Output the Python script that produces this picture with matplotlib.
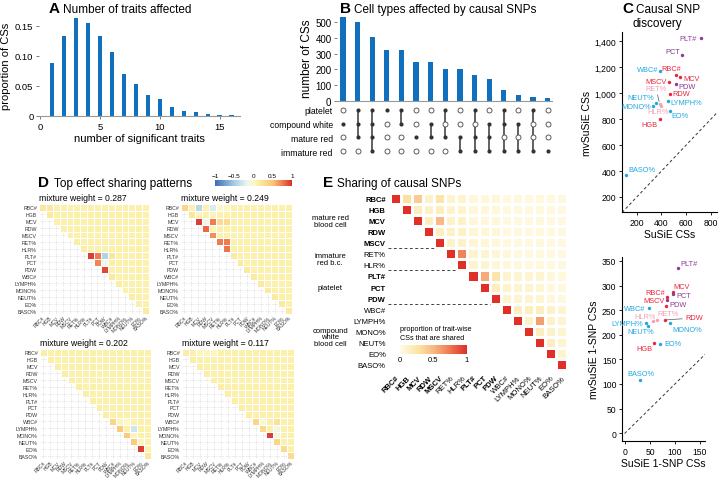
import numpy as np
import matplotlib.pyplot as plt
from matplotlib.colors import LinearSegmentedColormap, Normalize
from matplotlib.cm import ScalarMappable
from matplotlib.ticker import FuncFormatter

plt.rcParams['font.family'] = ['Liberation Sans', 'DejaVu Sans']

# ---- data ----
a_traits = [1, 2, 3, 4, 5, 6, 7, 8, 9, 10, 11, 12, 13, 14, 15, 16]
a_prop = [0.088, 0.134, 0.163, 0.155, 0.133, 0.107, 0.070, 0.054, 0.035,
          0.029, 0.015, 0.008, 0.007, 0.004, 0.001, 0.002]

b_counts = [528, 498, 406, 321, 320, 249, 245, 202, 202, 166, 138, 68, 38, 26, 17]
b_rows = ["platelet", "compound white", "mature red", "immature red"]
b_platelet = [0, 1, 1, 1, 1, 0, 0, 1, 0, 1, 0, 1, 0, 1, 0]
b_white = [1, 1, 1, 0, 1, 0, 1, 0, 0, 0, 1, 1, 1, 0, 0]
b_mature = [0, 1, 1, 0, 0, 1, 1, 1, 1, 1, 1, 0, 0, 0, 0]
b_immature = [0, 0, 1, 0, 0, 0, 0, 0, 1, 1, 1, 1, 1, 1, 1]

traits = ["RBC#", "HGB", "MCV", "RDW", "MSCV", "RET%", "HLR%", "PLT#", "PCT",
          "PDW", "WBC#", "LYMPH%", "MONO%", "NEUT%", "EO%", "BASO%"]
trait_group = ["red", "red", "red", "red", "red", "pink", "pink", "purple", "purple",
               "purple", "cyan", "cyan", "cyan", "cyan", "cyan", "cyan"]
bold_traits = ["RBC#", "HGB", "MCV", "RDW", "MSCV", "PLT#", "PCT", "PDW"]

c_susie = [520, 384, 549, 467, 461, 385, 400, 720, 565, 515, 387, 450, 335, 357, 470, 112]
c_mvsusie = [1143, 798, 1128, 996, 1086, 920, 905, 1425, 1292, 1074, 1169, 937, 901, 927, 865, 372]
c_susie1 = [83, 57, 95, 80, 81, 63, 55, 105, 95, 83, 47, 42, 90, 45, 70, 30]
c_mvsusie1 = [277, 183, 286, 230, 259, 230, 227, 336, 282, 270, 254, 223, 223, 218, 182, 108]

d_weights = ["0.287", "0.249", "0.202", "0.117"]
d_rows_1 = [
    [.18, .18, .10, .10, .10, .10, .10, .10, .10, .10, .10, .10, .10, .10, .10, .10],
    [.16, .10, .10, .10, .10, .10, .10, .10, .10, .10, .10, .10, .10, .10, .10],
    [.10, .10, .10, .10, .10, .10, .10, .10, .10, .10, .10, .10, .10, .10],
    [.10, .10, .10, .10, .10, .10, .10, .10, .10, .10, .10, .10, .10],
    [.10, .10, .10, .10, .10, .10, .10, .10, .10, .10, .10, .10],
    [.12, .10, .10, .10, .10, .10, .10, .10, .10, .10, .10],
    [.12, .10, .10, .10, .10, .10, .10, .10, .10, .10],
    [.95, .75, -.45, .20, .10, .10, .10, .10, .10],
    [.72, -.15, .12, .10, .10, .10, .10, .10],
    [.92, .10, .10, .10, .10, .10, .10],
    [.15, .10, .10, .10, .10, .10],
    [.12, .10, .10, .10, .10],
    [.10, .10, .10, .10],
    [.12, .10, .10],
    [.10, .10],
    [.15],
]
d_rows_2 = [
    [.35, .10, -.40, .08, -.25, .00, .02, .10, .10, .10, .10, .10, .10, .10, .10, .10],
    [.20, .06, .10, .06, .08, .08, .10, .10, .10, .10, .10, .10, .10, .10, .10],
    [.95, -.12, .75, .30, .30, .10, .10, .10, .10, .10, .10, .10, .10, .10],
    [.82, .05, .10, .10, .10, .10, .10, .10, .10, .10, .10, .10, .10],
    [.68, .10, .10, .10, .10, .10, .10, .10, .10, .10, .10, .10],
    [.75, .75, .10, .10, .10, .10, .10, .10, .10, .10, .10],
    [.78, .10, .10, .10, .10, .10, .10, .10, .10, .10],
    [.15, .10, .10, .10, .10, .10, .10, .10, .10],
    [.15, .10, .10, .10, .10, .10, .10, .10],
    [.15, .10, .10, .10, .10, .10, .10],
    [.15, .10, .10, .10, .10, .10],
    [.15, .10, .10, .10, .10],
    [.15, .10, .10, .10],
    [.15, .10, .10],
    [.15, .10],
    [.15],
]
d_rows_3 = [
    [.12, .10, .10, .10, .10, .10, .10, .10, .10, .10, .10, .10, .10, .10, .10, .10],
    [.12, .10, .10, .10, .10, .10, .10, .10, .10, .10, .10, .10, .10, .10, .10],
    [.12, .10, .10, .10, .10, .10, .10, .10, .10, .10, .10, .10, .10, .10],
    [.12, .10, .10, .10, .10, .10, .10, .10, .10, .10, .10, .10, .10],
    [.12, .10, .10, .10, .10, .10, .10, .10, .10, .10, .10, .10],
    [.12, .10, .10, .10, .10, .10, .10, .10, .10, .10, .10],
    [.12, .10, .10, .10, .10, .10, .10, .10, .10, .10],
    [.12, .10, .10, .10, .10, .10, .10, .10, .10],
    [.12, .10, .10, .10, .10, .10, .10, .10],
    [.12, .10, .10, .10, .10, .10, .10],
    [.35, .05, .00, .10, .10, .10],
    [.45, .10, -.30, .10, .10],
    [.45, .05, .10, .10],
    [.45, .05, .10],
    [.95, .10],
    [.18],
]
d_rows_4 = [
    [.12, .10, .03, .03, .03, .10, .10, .10, .10, .10, .10, .10, .10, .10, .10, .10],
    [.12, .10, .10, .10, .10, .10, .10, .10, .10, .10, .10, .10, .10, .10, .10],
    [.12, .10, .10, .10, .10, .10, .10, .10, .10, .10, .10, .10, .10, .10],
    [.12, .10, .10, .10, .10, .10, .10, .10, .10, .10, .10, .10, .10],
    [.12, .10, .10, .10, .10, .10, .10, .10, .10, .10, .10, .10],
    [.12, .10, .10, .10, .10, .10, .10, .10, .10, .10, .10],
    [.12, .10, .10, .10, .10, .10, .10, .10, .10, .10],
    [.12, .10, .10, .10, .10, .10, .10, .10, .10],
    [.12, .10, .10, .10, .10, .10, .10, .10],
    [.12, .10, .10, .10, .10, .10, .10],
    [.35, -.05, .12, .25, .10, .10],
    [.32, .10, -.12, .10, .10],
    [.95, -.10, .10, .10],
    [.35, .10, .10],
    [.30, .10],
    [.28],
]

e_rows = [
    [1, .30, .40, .12, .25, .10, .10, .06, .06, .06, .05, .05, .05, .05, .05, .04],
    [1, .15, .12, .15, .10, .10, .06, .06, .06, .05, .05, .05, .05, .05, .04],
    [1, .15, .50, .12, .12, .06, .06, .06, .05, .05, .05, .05, .05, .04],
    [1, .15, .12, .12, .07, .07, .07, .05, .05, .05, .05, .05, .04],
    [1, .12, .12, .07, .07, .06, .05, .05, .05, .05, .05, .04],
    [1, .70, .10, .08, .07, .06, .05, .05, .05, .05, .04],
    [1, .10, .08, .07, .06, .05, .05, .05, .05, .04],
    [1, .55, .25, .10, .08, .08, .08, .06, .05],
    [1, .15, .10, .08, .08, .08, .06, .05],
    [1, .10, .08, .08, .08, .06, .05],
    [1, .15, .15, .15, .12, .08],
    [1, .12, .60, .12, .08],
    [1, .15, .12, .08],
    [1, .15, .08],
    [1, .10],
    [1],
]
e_groups = ["mature red\nblood cell", "immature\nred b.c.", "platelet",
            "compound\nwhite\nblood cell"]
e_group_last = [4, 6, 9, 15]

# ---- styles ----
W, H = 720, 481
BLUE = "#1170bd"
group_col = {"red": "#e8263a", "pink": "#f4a0b8", "purple": "#8b3a98", "cyan": "#1ea7e1"}

# label offsets in pixels (dx, dy, ha) for panel C
c_top_off = {"PLT#": (-4, 0, "right"), "PCT": (-2, 4, "right"), "WBC#": (-2, 2, "right"),
             "RBC#": (-5, 6, "center"), "MCV": (4, -2, "left"), "MSCV": (-2, 1, "right"),
             "PDW": (3, -3, "left"), "RDW": (3, 0, "left"), "RET%": (7, 15, "right"),
             "NEUT%": (-2, 5, "right"), "MONO%": (-2, 0, "right"), "LYMPH%": (3, -1, "left"),
             "HLR%": (-3, -6, "center"), "EO%": (1, -5, "left"), "HGB": (-2, -5, "right"),
             "BASO%": (2, 5, "left")}
c_bot_off = {"PLT#": (3, 4, "left"), "MCV": (1, 6, "left"), "RBC#": (-1, 4, "right"),
             "PCT": (4, -1, "left"), "MSCV": (-1, 5, "right"), "PDW": (3, -4, "left"),
             "WBC#": (-3, 0, "right"), "RET%": (1, 6, "left"), "HLR%": (3, 5, "right"),
             "RDW": (20, 2, "left"), "LYMPH%": (-3, 0, "right"), "NEUT%": (-7, -6, "center"),
             "MONO%": (2, -6, "left"), "EO%": (4, 0, "left"), "HGB": (-1, -5, "right"),
             "BASO%": (1, 6, "center")}
c_leader = {"RET%": True}
c_leader_bot = {"RDW": True}

dcmap = LinearSegmentedColormap.from_list("d", [
    (0.0, "#3c6fb4"), (0.25, "#a5cde5"), (0.42, "#eef6f0"), (0.5, "#fdf8c6"),
    (0.56, "#fbeea6"), (0.75, "#fbc675"), (0.88, "#f07a4f"), (1.0, "#d7302b")])
dnorm = Normalize(-1, 1)
ecmap = LinearSegmentedColormap.from_list("e", [
    (0.0, "#fffcec"), (0.1, "#fdf3cb"), (0.3, "#fbe0a0"), (0.5, "#f8b884"),
    (0.7, "#f08458"), (1.0, "#df2f27")])
enorm = Normalize(0, 1)

fig = plt.figure(figsize=(7.2, 4.81), dpi=100)


def box(l, t, r, b):
    return fig.add_axes([l / W, 1 - b / H, (r - l) / W, (b - t) / H])


def ftext(x, y, s, **kw):
    fig.text(x / W, 1 - y / H, s, **kw)


def heading(xl, xt, y, letter, title):
    ftext(xl, y, letter, weight="bold", size=11, va="baseline")
    ftext(xt, y, title, size=8.5, va="baseline")


def clean(ax, left=False):
    for s in ["top", "right"]:
        ax.spines[s].set_visible(False)
    ax.spines["left"].set_visible(left)
    ax.spines["bottom"].set_color("#999999" if not left else "black")
    ax.spines["bottom"].set_linewidth(0.8)
    ax.tick_params(length=2.5, width=0.6, color="#666666", pad=1.5)


def tri(rows):
    m = np.full((16, 16), np.nan)
    for i, r in enumerate(rows):
        m[i, i:] = r
    return np.ma.masked_invalid(m)


# ---- A ----
heading(49, 63, 13, "A", "Number of traits affected")
ax = box(39, 15, 240, 117)
ax.bar(a_traits, a_prop, width=0.36, color=BLUE)
ax.set_xlim(-0.08, 16.7)
ax.set_ylim(0, 0.17)
ax.set_xticks([0, 5, 10, 15])
ax.set_yticks([0, 0.05, 0.10, 0.15])
ax.set_yticklabels(["0", "0.05", "0.10", "0.15"])
clean(ax)
ax.tick_params(labelsize=6.8)
ax.set_ylabel("proportion of CSs", fontsize=8, labelpad=3)
ax.set_xlabel("number of significant traits", fontsize=8, labelpad=2)

# ---- B ----
heading(340, 354, 13, "B", "Cell types affected by causal SNPs")
xb = np.arange(len(b_counts))
ax = box(337, 15, 552, 102)
ax.bar(xb, b_counts, width=0.36, color=BLUE)
ax.set_xlim(-0.41, 14.3)
ax.set_ylim(0, 550)
ax.set_yticks(range(0, 501, 100))
ax.set_xticks([])
clean(ax)
ax.tick_params(labelsize=7)
ax.set_ylabel("number of CSs", fontsize=8.5, labelpad=2)

ax = box(337, 104, 552, 159)
ax.set_xlim(-0.41, 14.3)
ax.set_ylim(3.5, -0.5)
member = np.array([b_platelet, b_white, b_mature, b_immature])
for j in xb:
    on = np.where(member[:, j] == 1)[0]
    if len(on) > 1:
        ax.plot([j, j], [on.min(), on.max()], color="#555555", lw=1.3, zorder=1)
    for i in range(4):
        if member[i, j]:
            ax.scatter(j, i, s=9, color="#333333", zorder=3, linewidths=0)
        else:
            ax.scatter(j, i, s=13, facecolor="white", edgecolor="#444444",
                       linewidths=0.6, zorder=2)
ax.set_yticks(range(4))
ax.set_yticklabels(b_rows, fontsize=6.2)
ax.set_xticks([])
ax.tick_params(length=0, pad=3)
for s in ax.spines.values():
    s.set_visible(False)

# ---- C ----
ftext(622, 13, "C", weight="bold", size=11, va="baseline")
ftext(636, 13, "Causal SNP", size=8.5, va="baseline")
ftext(657, 27, "discovery", size=8.5, va="baseline", ha="center")


def cpanel(rect, xs, ys, lims, xt, yt, offs, leaders, xl, yl, yfmt=None):
    ax = box(*rect)
    ax.set_xlim(lims[0], lims[1])
    ax.set_ylim(lims[2], lims[3])
    lo = min(lims[0], lims[2])
    hi = max(lims[1], lims[3])
    ax.plot([lo, hi], [lo, hi], ls=(0, (3, 2.5)), color="#333333", lw=0.7, zorder=1)
    for t, g, x, y in zip(traits, trait_group, xs, ys):
        col = group_col[g]
        ax.scatter(x, y, s=6, color=col, linewidths=0, zorder=3)
        dx, dy, ha = offs[t]
        ap = dict(arrowstyle="-", color="#555555", lw=0.5, shrinkA=0, shrinkB=1.5) if t in leaders else None
        ax.annotate(t, (x, y), xytext=(dx, dy), textcoords="offset pixels", ha=ha,
                    va="center", fontsize=5.3, color=col, arrowprops=ap, zorder=4)
    ax.set_xticks(xt)
    ax.set_yticks(yt)
    if yfmt:
        ax.yaxis.set_major_formatter(FuncFormatter(yfmt))
    for s in ["top", "right"]:
        ax.spines[s].set_visible(False)
    for s in ["left", "bottom"]:
        ax.spines[s].set_linewidth(0.8)
    ax.tick_params(length=2.5, width=0.6, labelsize=6.2, pad=1.5)
    ax.set_xlabel(xl, fontsize=7.5, labelpad=1.5)
    ax.set_ylabel(yl, fontsize=7.5, labelpad=2)
    return ax


cpanel((622, 33, 717, 213), c_susie, c_mvsusie, (80, 850, 84, 1472),
       [200, 400, 600, 800], range(200, 1401, 200), c_top_off, c_leader,
       "SuSiE CSs", "mvSuSiE CSs", yfmt=lambda v, p: f"{int(v):,}")
cpanel((622, 258, 705, 442), c_susie1, c_mvsusie1, (-6, 160, -16, 358),
       [0, 50, 100, 150], range(0, 351, 50), c_bot_off, c_leader_bot,
       "SuSiE 1-SNP CSs", "mvSuSiE 1-SNP CSs")

# ---- D ----
heading(38, 54, 187, "D", "Top effect sharing patterns")
d_rects = [(39, 205, 149, 315), (181, 205, 292, 315), (40, 350, 151, 460), (182, 350, 294, 460)]
for rect, rows, w in zip(d_rects, [d_rows_1, d_rows_2, d_rows_3, d_rows_4], d_weights):
    ax = box(*rect)
    for k in range(16):
        ax.axhline(k, color="#e9e9e9", lw=0.5, zorder=0)
        ax.axvline(k, color="#e9e9e9", lw=0.5, zorder=0)
    edges = np.arange(17) - 0.5
    ax.pcolormesh(edges, edges, tri(rows), cmap=dcmap, norm=dnorm,
                  edgecolors="white", linewidth=0.6, zorder=1)
    ax.set_xlim(-0.5, 15.5)
    ax.set_ylim(15.5, -0.5)
    ax.set_xticks(range(16))
    ax.set_yticks(range(16))
    ax.set_xticklabels(traits, rotation=45, ha="right", rotation_mode="anchor", fontsize=3.6, color="#333333")
    ax.set_yticklabels(traits, fontsize=3.8, color="#333333")
    ax.tick_params(axis="x", length=0, pad=0.6)
    ax.tick_params(axis="y", length=0, pad=1.5)
    for s in ax.spines.values():
        s.set_visible(False)
    ax.set_title(f"mixture weight = {w}", loc="left", fontsize=6.2, pad=3)

cax = box(215, 181, 292, 187)
cb = fig.colorbar(ScalarMappable(dnorm, dcmap), cax=cax, orientation="horizontal")
cb.outline.set_visible(False)
cax.xaxis.set_ticks_position("top")
cb.set_ticks([-1, -0.5, 0, 0.5, 1])
cb.set_ticklabels(["\u22121", "\u22120.5", "0", "0.5", "1"])
cax.tick_params(length=0, labelsize=4.6, pad=1.5)

# ---- E ----
heading(323, 337, 187, "E", "Sharing of causal SNPs")
ax = box(390, 194, 567, 371)
edges = np.arange(17) - 0.5
ax.pcolormesh(edges, edges, tri(e_rows), cmap=ecmap, norm=enorm,
              edgecolors="white", linewidth=0.8)
ax.set_xlim(-0.5, 15.5)
ax.set_ylim(15.5, -0.5)
ax.set_xticks(range(16))
ax.set_yticks(range(16))
ax.set_xticklabels(traits, rotation=45, ha="right", rotation_mode="anchor", fontsize=5.5)
ax.set_yticklabels(traits, fontsize=5.5)
for lab in ax.get_xticklabels() + ax.get_yticklabels():
    if lab.get_text() in bold_traits:
        lab.set_fontweight("bold")
ax.tick_params(length=0, pad=3)
for s in ax.spines.values():
    s.set_visible(False)
first = 0
for name, last in zip(e_groups, e_group_last):
    if last < 15:
        ax.plot([-0.7, last - 0.5], [last + 0.5, last + 0.5], ls=(0, (3, 2.5)),
                color="#444444", lw=0.7, clip_on=False)
    yc = (first + last) / 2
    ax.text(-5.9, yc, name, ha="center", va="center", fontsize=5.5,
            linespacing=0.95, transform=ax.transData)
    first = last + 1

ftext(400, 331, "proportion of trait-wise", size=5.2, va="baseline")
ftext(400, 340, "CSs that are shared", size=5.2, va="baseline")
cax = box(400, 346, 467, 355)
cb = fig.colorbar(ScalarMappable(enorm, ecmap), cax=cax, orientation="horizontal")
cb.outline.set_visible(False)
cb.set_ticks([0, 0.5, 1])
cb.set_ticklabels(["0", "0.5", "1"])
cax.tick_params(length=0, labelsize=5.5, pad=1.5)

fig.savefig("out.png", dpi=100)
